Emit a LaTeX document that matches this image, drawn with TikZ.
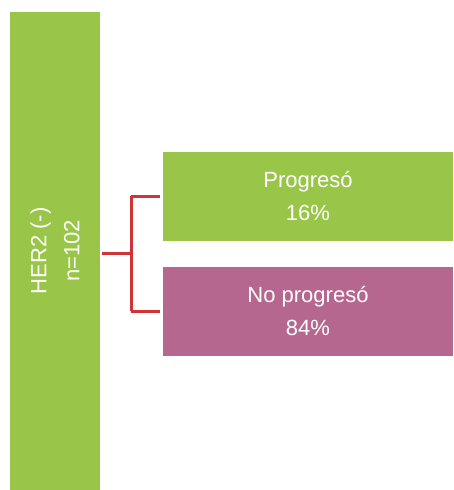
\documentclass[tikz,border=0pt]{standalone}
\usepackage{fontspec}
\setmainfont{Liberation Sans}
\definecolor{hergreen}{RGB}{153,198,72}
\definecolor{herpink}{RGB}{182,103,143}
\definecolor{herred}{RGB}{206,52,56}
\begin{document}
\begin{tikzpicture}[x=1pt, y=1pt,
    box/.style={rectangle, draw=none, text=white, align=center, inner sep=0pt,
                font=\fontsize{22}{33}\selectfont},
    link/.style={herred, line width=2.6pt}]
                    \useasboundingbox (0,0) rectangle (453,490);
                    \node[box, fill=hergreen, rotate=90, minimum width=478pt, minimum height=90pt] (her) at (55,239) {HER2 (-)\\n=102};
                    \node[box, fill=hergreen, minimum width=290pt, minimum height=89pt] (prog) at (308,293.5) {Progresó\\16\%};
                    \node[box, fill=herpink, minimum width=290pt, minimum height=89pt] (noprog) at (308,178.5) {No progresó\\84\%};

                    \draw[link] ([xshift=2pt, yshift=-2.5pt] her.south) -- ++(29,0) coordinate (fork);
                    \draw[link] (fork |- prog.west) -- (fork |- noprog.west);
                    \draw[link] (fork |- prog.west) -- ([xshift=-3pt] prog.west);
                    \draw[link] (fork |- noprog.west) -- ([xshift=-3pt] noprog.west);
                \end{tikzpicture}
\end{document}
